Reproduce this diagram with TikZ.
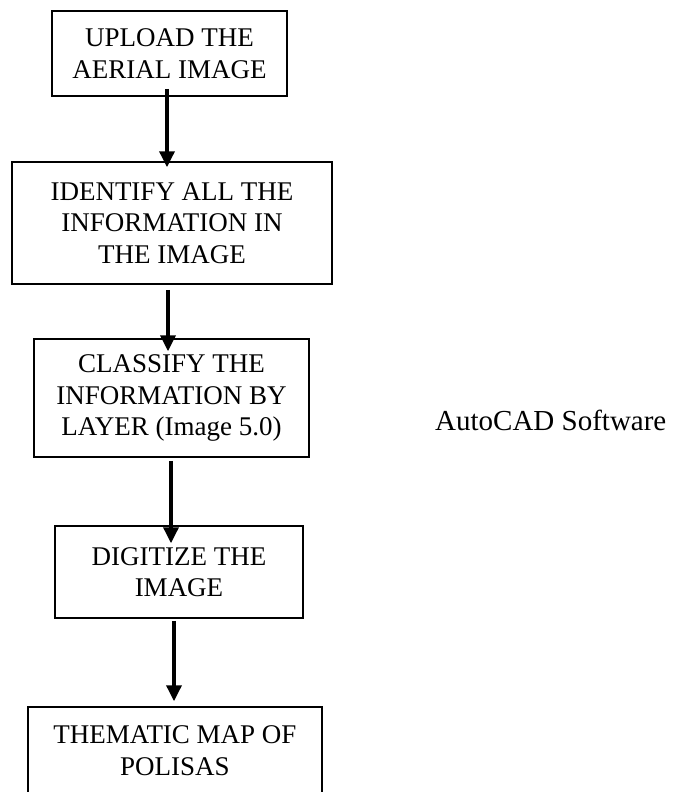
\documentclass[tikz,border=0pt]{standalone}
\usepackage{fontspec}
\setmainfont{Liberation Serif}
\usetikzlibrary{arrows.meta}
\begin{document}
\begin{tikzpicture}[x=1pt,y=-1pt,
  box/.style={draw=black, line width=1.5pt, inner sep=0pt, align=center, font=\fontsize{27}{31.5}\selectfont},
  arr/.style={line width=3.5pt, -{Triangle[width=15pt,length=16pt]}}]
\clip (0,0) rectangle (675,792);
\fill[white] (0,0) rectangle (675,792);
\node[box, minimum width=235pt, minimum height=85pt] (b1) at (169.5,53.5) {UPLOAD THE\\AERIAL IMAGE};
\node[box, minimum width=320pt, minimum height=122pt] (b2) at (172,223) {IDENTIFY ALL THE\\INFORMATION IN\\THE IMAGE};
\node[box, minimum width=275pt, minimum height=118pt] (b3) at (171.5,398) {CLASSIFY THE\\INFORMATION BY\\LAYER (Image 5.0)};
\node[box, minimum width=248pt, minimum height=92pt] (b4) at (179,572) {DIGITIZE THE\\IMAGE};
\node[box, minimum width=294pt, minimum height=87pt] (b5) at (175,750.5) {THEMATIC MAP OF\\POLISAS};
\node[anchor=base west, inner sep=0pt, font=\fontsize{29}{32}\selectfont] (sw) at (435,430) {AutoCAD Software};
\draw[arr] ([xshift=-2.5pt,yshift=8pt]b1.south) -- ([xshift=-5pt,yshift=-6pt]b2.north);
\draw[arr] ([xshift=-4pt,yshift=-5pt]b2.south) -- ([xshift=-3.5pt,yshift=-13pt]b3.north);
\draw[arr] ([xshift=-0.5pt,yshift=-3pt]b3.south) -- ([xshift=-8pt,yshift=-18pt]b4.north);
\draw[arr] ([xshift=-5pt,yshift=-2pt]b4.south) -- ([xshift=-1pt,yshift=5pt]b5.north);
\end{tikzpicture}
\end{document}
